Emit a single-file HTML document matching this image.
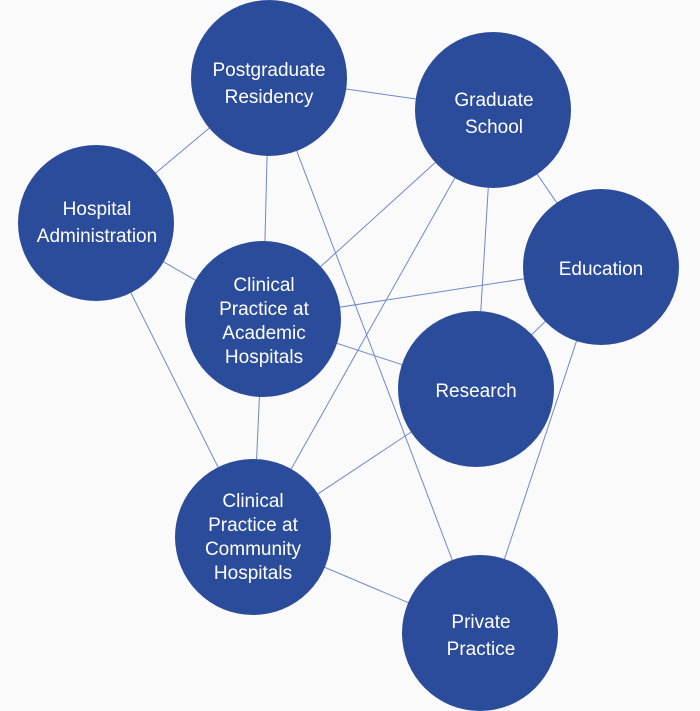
<!DOCTYPE html>
<html><head><meta charset="utf-8"><style>
html,body{margin:0;padding:0;background:#fafafa;}
svg{display:block}
text{font-family:"Liberation Sans",sans-serif;font-size:19px;fill:#fff;text-anchor:middle}
</style></head><body>
<svg width="700" height="711" viewBox="0 0 700 711">
<rect width="700" height="711" fill="#fafafa"/>
<g stroke="#6f88c9" stroke-width="1" fill="none">
<line x1="269" y1="78" x2="493" y2="110"/>
<line x1="269" y1="78" x2="96" y2="223"/>
<line x1="269" y1="78" x2="263" y2="319"/>
<line x1="269" y1="78" x2="480" y2="633"/>
<line x1="493" y1="110" x2="263" y2="319"/>
<line x1="493" y1="110" x2="253" y2="537"/>
<line x1="493" y1="110" x2="476" y2="389"/>
<line x1="493" y1="110" x2="601" y2="267"/>
<line x1="96" y1="223" x2="263" y2="319"/>
<line x1="96" y1="223" x2="253" y2="537"/>
<line x1="263" y1="319" x2="601" y2="267"/>
<line x1="263" y1="319" x2="476" y2="389"/>
<line x1="263" y1="319" x2="253" y2="537"/>
<line x1="601" y1="267" x2="476" y2="389"/>
<line x1="601" y1="267" x2="480" y2="633"/>
<line x1="476" y1="389" x2="253" y2="537"/>
<line x1="253" y1="537" x2="480" y2="633"/>
</g>
<g fill="#2a4c9b">
<circle cx="269" cy="78" r="78"/>
<circle cx="493" cy="110" r="78"/>
<circle cx="96" cy="223" r="78"/>
<circle cx="601" cy="267" r="78"/>
<circle cx="263" cy="319" r="78"/>
<circle cx="476" cy="389" r="78"/>
<circle cx="253" cy="537" r="78"/>
<circle cx="480" cy="633" r="78"/>
</g>
<text x="269" y="76">Postgraduate</text><text x="269" y="103">Residency</text>
<text x="494" y="106">Graduate</text><text x="494" y="133">School</text>
<text x="97" y="215">Hospital</text><text x="97" y="242">Administration</text>
<text x="601" y="275">Education</text>
<text x="264" y="291">Clinical</text><text x="264" y="315">Practice at</text><text x="264" y="339">Academic</text><text x="264" y="363">Hospitals</text>
<text x="476" y="397">Research</text>
<text x="253" y="507">Clinical</text><text x="253" y="531">Practice at</text><text x="253" y="555">Community</text><text x="253" y="579">Hospitals</text>
<text x="481" y="628">Private</text><text x="481" y="655">Practice</text>
</svg>
</body></html>
